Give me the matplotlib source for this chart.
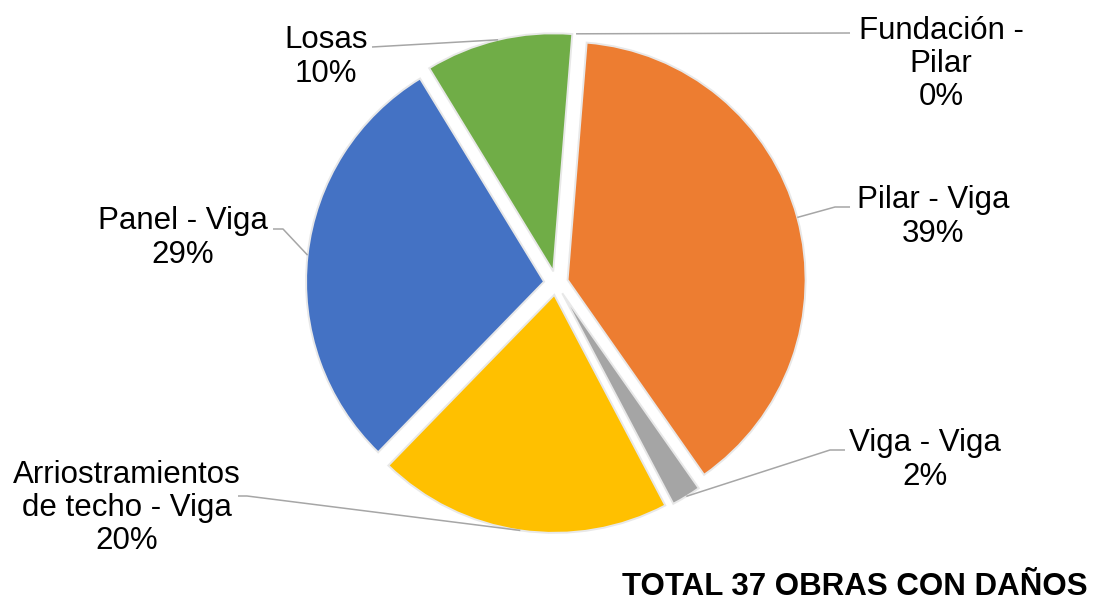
import matplotlib
matplotlib.use("Agg")
import matplotlib.pyplot as plt
import numpy as np

plt.rcParams['font.family'] = ['Liberation Sans', 'DejaVu Sans']

# data
categories = ["Fundación -\nPilar", "Pilar - Viga", "Viga - Viga",
              "Arriostramientos\nde techo - Viga", "Panel - Viga", "Losas"]
percent = [0, 39, 2, 20, 29, 10]
colors = ["#4472C4", "#ED7D31", "#A5A5A5", "#FFC000", "#4472C4", "#70AD47"]
title = "TOTAL 37 OBRAS CON DAÑOS"

W, H = 1097, 605
fig = plt.figure(figsize=(W / 100, H / 100), dpi=100)
ax = fig.add_axes([0, 0, 1, 1])

cx, cy, R = 556, H - 283, 238
wedges, _ = ax.pie(percent, colors=colors, startangle=85.4, counterclock=False,
                   radius=R, center=(cx, cy), explode=[12] * len(percent),
                   wedgeprops=dict(edgecolor="#e8e8e8", linewidth=1.4))
for w, v in zip(wedges, percent):
    if v == 0:
        w.set_visible(False)

ax.set_xlim(0, W)
ax.set_ylim(0, H)
ax.set_aspect('equal')
ax.axis('off')

# label layout: text centre and leader path (image coords, y down)
text_pos = [(941, 64), (933, 217), (925, 460), (127, 508), (183, 238), (326, 57)]
leader = [[(850, 33)],
          [(850, 207), (835, 207)],
          [(845, 450), (830, 450)],
          [(238, 496), (247, 496)],
          [(273, 229), (283, 229)],
          [(372, 47)]]

for w, lab, v, tp, pts in zip(wedges, categories, percent, text_pos, leader):
    th = np.deg2rad((w.theta1 + w.theta2) / 2)
    ox, oy = w.center
    ax_, ay_ = ox + w.r * np.cos(th), oy + w.r * np.sin(th)
    xs = [p[0] for p in pts] + [ax_]
    ys = [H - p[1] for p in pts] + [ay_]
    ax.plot(xs, ys, color="#A6A6A6", lw=1.1, solid_capstyle='butt', zorder=1)
    ax.text(tp[0], H - tp[1], f"{lab}\n{v}%", ha='center', va='center',
            fontsize=22.5, linespacing=1.15, color="black")

ax.text(855, H - 587, title, ha='center', va='center', fontsize=22.5,
        fontweight='bold', color="black")

fig.savefig("out.png", dpi=100)
